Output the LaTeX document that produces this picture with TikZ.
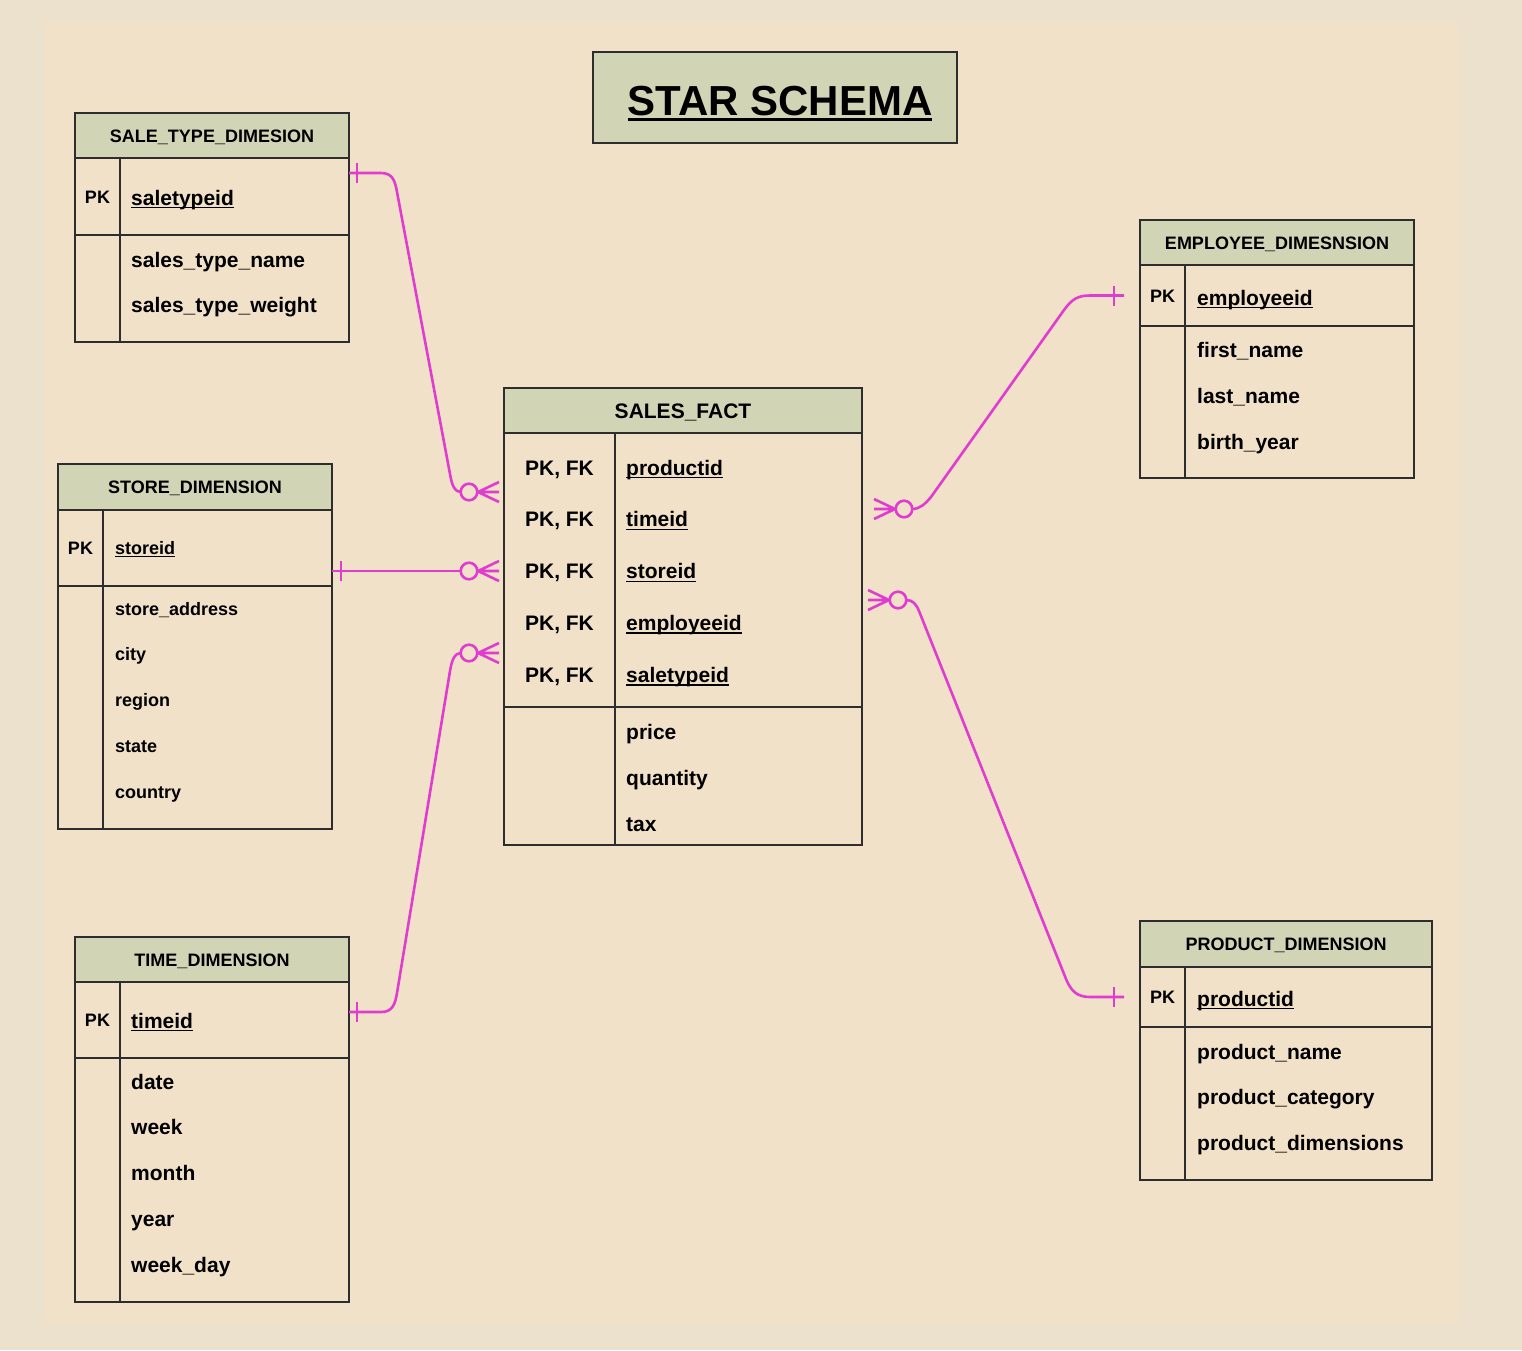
\documentclass[tikz,border=0pt]{standalone}
\usepackage{fontspec}
\setmainfont{Liberation Sans}
\usetikzlibrary{positioning,calc}
\definecolor{pagebg}{RGB}{236,225,204}
\definecolor{sheetbg}{RGB}{241,225,200}
\definecolor{headgreen}{RGB}{209,212,181}
\definecolor{linegray}{RGB}{45,45,45}
\definecolor{relpink}{RGB}{224,60,208}
\newcommand{\keyul}[1]{\setbox0\hbox{#1}\rlap{\vrule height -2pt depth 3.4pt width \wd0}\box0}
\newcommand{\titleul}[1]{\setbox0\hbox{#1}\rlap{\vrule height -3pt depth 6pt width \wd0}\box0}
\tikzset{
  tbl/.style={draw=linegray,line width=1.6pt,inner sep=0pt,outer sep=0pt},
  tblline/.style={draw=linegray,line width=1.6pt},
  head/.style={tbl,fill=headgreen,anchor=north west,font=\bfseries\fontsize{18}{20}\selectfont,text height=13pt,text depth=0pt},
  pklabel/.style={inner sep=0pt,font=\bfseries\fontsize{18}{20}\selectfont,text height=13pt,text depth=0pt},
  fld/.style={anchor=base west,inner sep=0pt,font=\bfseries\fontsize{21}{24}\selectfont},
  smallfld/.style={fld,font=\bfseries\fontsize{18}{20}\selectfont},
  rel/.style={draw=relpink,line width=2.6pt},
  onebar/.pic={\draw[rel] (0,-10) -- (0,10);},
  zeromany/.pic={\draw[rel] (-30,0) circle[radius=8.3pt];
    \draw[rel] (-21,0) -- (0,-10) (-21,0) -- (0,0) (-21,0) -- (0,10);}
}
\begin{document}
\begin{tikzpicture}[x=1pt,y=-1pt]
\fill[pagebg] (0,0) rectangle (1522,1350);
\fill[sheetbg] (44,22) rectangle (1458,1323);

\node[tbl,fill=headgreen,anchor=north west,minimum width=364pt,minimum height=91pt] (title) at (593,52) {};
\node[anchor=base,inner sep=0pt,font=\bfseries\fontsize{42}{46}\selectfont] (title-text) at (780,115) {\titleul{STAR SCHEMA}};

% sale type
\node[head,minimum width=274pt,minimum height=45pt] (st-head) at (75,113) {SALE\_TYPE\_DIMESION};
\node[tbl,minimum width=274pt,minimum height=77pt,below=0pt of st-head] (st-pk) {};
\node[tbl,minimum width=274pt,minimum height=107pt,below=0pt of st-pk] (st-attr) {};
\draw[tblline] ($(st-pk.north west)+(45,0)$) -- ($(st-attr.south west)+(45,0)$);
\node[pklabel] (st-pktxt) at ($(st-pk.west)+(22.5,0)$) {PK};
\node[fld] (st-key) at ($(st-pk.north west)+(56,47)$) {\keyul{saletypeid}};
\foreach \f [count=\i] in {sales\_type\_name,sales\_type\_weight}
  \node[fld] (st-f\i) at ($(st-attr.north west)+(56,{32+45*(\i-1)})$) {\f};

% store
\node[head,minimum width=274pt,minimum height=46pt] (store-head) at (58,464) {STORE\_DIMENSION};
\node[tbl,minimum width=274pt,minimum height=76pt,below=0pt of store-head] (store-pk) {};
\node[tbl,minimum width=274pt,minimum height=243pt,below=0pt of store-pk] (store-attr) {};
\draw[tblline] ($(store-pk.north west)+(45,0)$) -- ($(store-attr.south west)+(45,0)$);
\node[pklabel] (store-pktxt) at ($(store-pk.west)+(22.5,0)$) {PK};
\node[smallfld] (store-key) at ($(store-pk.north west)+(57,44)$) {\keyul{storeid}};
\foreach \f [count=\i] in {store\_address,city,region,state,country}
  \node[smallfld] (store-f\i) at ($(store-attr.north west)+(57,{29+45.8*(\i-1)})$) {\f};

% time
\node[head,minimum width=274pt,minimum height=45pt] (time-head) at (75,937) {TIME\_DIMENSION};
\node[tbl,minimum width=274pt,minimum height=76pt,below=0pt of time-head] (time-pk) {};
\node[tbl,minimum width=274pt,minimum height=244pt,below=0pt of time-pk] (time-attr) {};
\draw[tblline] ($(time-pk.north west)+(45,0)$) -- ($(time-attr.south west)+(45,0)$);
\node[pklabel] (time-pktxt) at ($(time-pk.west)+(22.5,0)$) {PK};
\node[fld] (time-key) at ($(time-pk.north west)+(56,46)$) {\keyul{timeid}};
\foreach \f [count=\i] in {date,week,month,year,week\_day}
  \node[fld] (time-f\i) at ($(time-attr.north west)+(56,{31+45.75*(\i-1)})$) {\f};

% fact
\node[head,minimum width=358pt,minimum height=45pt,font=\bfseries\fontsize{21}{24}\selectfont,text height=15pt] (fact-head) at (504,388) {SALES\_FACT};
\node[tbl,minimum width=358pt,minimum height=274pt,below=0pt of fact-head] (fact-keys) {};
\node[tbl,minimum width=358pt,minimum height=138pt,below=0pt of fact-keys] (fact-attr) {};
\draw[tblline] ($(fact-keys.north west)+(111,0)$) -- ($(fact-attr.south west)+(111,0)$);
\foreach \k [count=\i] in {productid,timeid,storeid,employeeid,saletypeid} {
  \node[fld,anchor=base] (fact-pk\i) at ($(fact-keys.north west)+(55.5,{42+51.8*(\i-1)})$) {PK, FK};
  \node[fld] (fact-key\i) at ($(fact-keys.north west)+(122,{42+51.8*(\i-1)})$) {\keyul{\k}};
}
\foreach \f [count=\i] in {price,quantity,tax}
  \node[fld] (fact-f\i) at ($(fact-attr.north west)+(122,{32+46*(\i-1)})$) {\f};

% employee
\node[head,minimum width=274pt,minimum height=45pt] (emp-head) at (1140,220) {EMPLOYEE\_DIMESNSION};
\node[tbl,minimum width=274pt,minimum height=61pt,below=0pt of emp-head] (emp-pk) {};
\node[tbl,minimum width=274pt,minimum height=152pt,below=0pt of emp-pk] (emp-attr) {};
\draw[tblline] ($(emp-pk.north west)+(45,0)$) -- ($(emp-attr.south west)+(45,0)$);
\node[pklabel] (emp-pktxt) at ($(emp-pk.west)+(22.5,0)$) {PK};
\node[fld] (emp-key) at ($(emp-pk.north west)+(57,40)$) {\keyul{employeeid}};
\foreach \f [count=\i] in {first\_name,last\_name,birth\_year}
  \node[fld] (emp-f\i) at ($(emp-attr.north west)+(57,{31+46*(\i-1)})$) {\f};

% product
\node[head,minimum width=292pt,minimum height=46pt] (prod-head) at (1140,921) {PRODUCT\_DIMENSION};
\node[tbl,minimum width=292pt,minimum height=60pt,below=0pt of prod-head] (prod-pk) {};
\node[tbl,minimum width=292pt,minimum height=153pt,below=0pt of prod-pk] (prod-attr) {};
\draw[tblline] ($(prod-pk.north west)+(45,0)$) -- ($(prod-attr.south west)+(45,0)$);
\node[pklabel] (prod-pktxt) at ($(prod-pk.west)+(22.5,0)$) {PK};
\node[fld] (prod-key) at ($(prod-pk.north west)+(57,39)$) {\keyul{productid}};
\foreach \f [count=\i] in {product\_name,product\_category,product\_dimensions}
  \node[fld] (prod-f\i) at ($(prod-attr.north west)+(57,{32+45.5*(\i-1)})$) {\f};

% relationships
\coordinate (st-link) at ($(st-pk.north east)+(0,15)$);
\coordinate (store-link) at ($(store-pk.south east)+(0,-15)$);
\coordinate (time-link) at ($(time-pk.north east)+(0,30)$);
\coordinate (emp-link) at ($(emp-pk.west)+(-16,0)$);
\coordinate (prod-link) at ($(prod-pk.west)+(-16,0)$);
\coordinate (fact-st) at ($(fact-keys.north west)+(-5,59)$);
\coordinate (fact-store) at ($(fact-keys.north west)+(-5,138)$);
\coordinate (fact-time) at ($(fact-keys.north west)+(-5,220)$);
\coordinate (fact-emp) at ($(fact-keys.north east)+(12,76)$);
\coordinate (fact-prod) at ($(fact-keys.north east)+(6,167)$);

\draw[rel] (st-link) -- (381,173) .. controls (392,173) and (395,180) .. (397,192) -- (450,474) .. controls (452,486) and (455,492) .. ($(fact-st)+(-38,0)$);
\draw[rel] (store-link) -- ($(fact-store)+(-38,0)$);
\draw[rel] (time-link) -- (381,1012) .. controls (392,1012) and (395,1005) .. (397,993) -- (450,671) .. controls (452,659) and (455,653) .. ($(fact-time)+(-38,0)$);
\draw[rel] ($(fact-emp)+(38,0)$) .. controls (920,509) and (925,504) .. (931,497) -- (1064,310) .. controls (1072,299) and (1078,295.5) .. (1090,295.5) -- (emp-link);
\draw[rel] ($(fact-prod)+(38,0)$) .. controls (913,600) and (916,604) .. (919,611) -- (1066,979) .. controls (1071,991) and (1077,997) .. (1090,997) -- (prod-link);

\pic at ($(st-link)+(8,0)$) {onebar};
\pic at ($(store-link)+(9,0)$) {onebar};
\pic at ($(time-link)+(8,0)$) {onebar};
\pic at ($(emp-link)+(-10,0)$) {onebar};
\pic at ($(prod-link)+(-10,0)$) {onebar};
\pic at (fact-st) {zeromany};
\pic at (fact-store) {zeromany};
\pic at (fact-time) {zeromany};
\pic[rotate=180] at (fact-emp) {zeromany};
\pic[rotate=180] at (fact-prod) {zeromany};
\end{tikzpicture}
\end{document}
